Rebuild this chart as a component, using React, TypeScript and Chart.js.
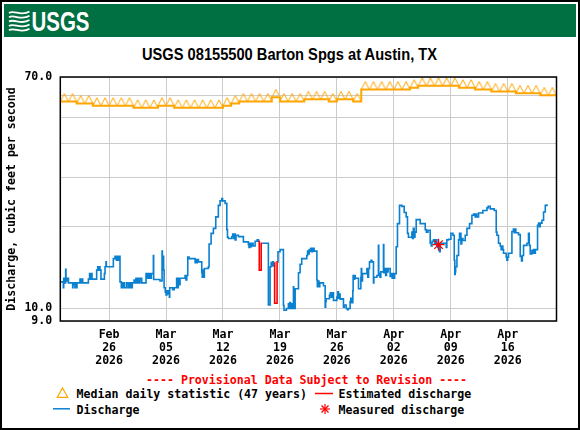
import React, { useEffect, useRef } from 'react';
import { Chart, registerables } from 'chart.js';

Chart.register(...registerables);

const MONO = '"DejaVu Sans Mono", "Liberation Mono", monospace';
const NARROW = '"Liberation Sans Narrow", "Arial Narrow", "Liberation Sans", Arial, sans-serif';

const TITLE = 'USGS 08155500 Barton Spgs at Austin, TX';
const PROVISIONAL = '---- Provisional Data Subject to Revision ----';

// x values: days after 2026-02-20 00:00
const X_START = 0;
const X_END = 61;
const tickDays = [6, 13, 20, 27, 34, 41, 48, 55];
const tickMonths = ['Feb', 'Mar', 'Mar', 'Mar', 'Mar', 'Apr', 'Apr', 'Apr'];
const tickDates = ['26', '05', '12', '19', '26', '02', '09', '16'];
const tickYears = ['2026', '2026', '2026', '2026', '2026', '2026', '2026', '2026'];

const Y_MIN = 9;
const Y_MAX = 70;
const yGridValues = [9, 10, 20, 30, 40, 50, 60, 70];
const yLabelValues = [9, 10, 70];

// median daily statistic, one value per day starting 2026-02-20
const medianDaily = [
  57, 57, 56, 56, 55, 55, 55, 55, 55, 54, 54, 54, 55, 55, 54, 54, 54, 54, 54, 54,
  55, 56, 57, 57, 57, 57, 59, 57, 57, 57, 58, 58, 58, 57, 58, 58, 57, 63, 63, 63,
  63, 63, 63, 64, 65, 65, 65, 65, 65, 64, 64, 63, 63, 62, 62, 62, 61, 61, 61, 60, 60,
];

// [day, cfs]
const dischargeReadings: [number, number | null][] = [
  [0, 12.5], [0.3, 12.5], [0.37, 11.9], [0.42, 12.9], [0.55, 12.4], [0.66, 13.9], [0.7, 12.9], [0.8, 12.6],
  [0.9, 12.9], [1.0, 12.4], [1.52, 11.9], [1.56, 12.4], [1.7, 12.2], [1.8, 11.9], [1.85, 12.4], [2.01, 11.9],
  [2.05, 12.4], [2.42, 12.8], [2.5, 12.4], [2.6, 12.8], [2.75, 12.4], [3.45, 12.8], [3.6, 13.4], [3.7, 12.8],
  [3.8, 13.4], [3.9, 12.8], [4.47, 13.8], [4.6, 14.2], [4.7, 13.8], [4.8, 14.2], [4.88, 13.8], [5.0, 12.8],
  [5.42, 13.4], [5.5, 14.2], [5.62, 14.8], [5.66, 14.2], [6.52, 15.2], [6.73, 15.5], [6.9, 15.0], [7.0, 15.5],
  [7.1, 15.0], [7.2, 15.5], [7.34, 12.5], [7.5, 11.9], [7.6, 12.4], [7.7, 11.9], [7.8, 12.4], [7.9, 11.9],
  [8.16, 12.4], [8.37, 11.9], [8.45, 12.4], [8.6, 11.9], [8.7, 12.4], [8.78, 11.9], [8.85, 12.4], [9.07, 12.7],
  [9.2, 12.4], [9.3, 12.9], [9.4, 12.4], [9.6, 12.9], [9.7, 12.4], [9.8, 12.9], [10.01, 12.4], [10.54, 13.4],
  [10.6, 12.9], [10.7, 13.4], [10.8, 12.9], [10.9, 13.4], [11.0, 12.9], [11.2, 13.4], [11.44, 15.6], [11.48, 12.75],
  [12.26, 12.6], [12.51, 16.2], [12.55, 14.5], [12.6, 15.5], [12.7, 13.8], [12.76, 11.9], [12.9, 11.5], [13.0, 11.2],
  [13.1, 11.6], [13.2, 11.3], [13.3, 11.6], [13.41, 11.0], [13.45, 11.9], [13.8, 11.7], [14.0, 11.9], [14.3, 12.9],
  [14.4, 11.9], [14.5, 12.9], [14.6, 12.2], [14.72, 12.9], [15.34, 13.2], [15.45, 12.7], [15.55, 13.2], [15.67, 15.4],
  [15.83, 15.2], [16.57, 14.7], [16.65, 15.1], [16.75, 14.7], [16.85, 15.1], [16.98, 14.8], [17.39, 13.5], [17.45, 13.0],
  [17.5, 13.8], [17.6, 13.0], [17.71, 14.0], [18.2, 14.2], [18.29, 17.2], [18.54, 18.8], [18.82, 19.6], [19.11, 21.6],
  [19.43, 23.8], [19.64, 24.7], [19.85, 25.2], [19.95, 24.7], [20.26, 24.2], [20.47, 19.4], [20.55, 18.2], [20.67, 18.0],
  [21.08, 18.3], [21.2, 18.7], [21.3, 18.0], [21.4, 18.7], [21.5, 17.8], [21.6, 18.5], [21.9, 18.3], [22.51, 17.5],
  [23.12, 17.1], [23.2, 16.7], [23.3, 17.3], [23.4, 16.8], [23.5, 17.3], [23.7, 16.9], [23.95, 17.6], [24.2, 17.8],
  [24.36, 17.6], [24.44, 17.6], [24.6, null], [24.85, 17.3], [25.58, 10.3], [25.79, 14.2], [25.92, 14.7], [26.0, 14.3],
  [26.1, 14.8], [26.2, 14.3], [26.33, 14.7], [26.5, null], [26.74, 14.8], [26.76, 16.1], [27.02, 16.4], [27.43, 10.25],
  [27.5, 9.85], [27.8, 10.0], [28.04, 10.4], [28.1, 10.0], [28.2, 10.5], [28.3, 10.0], [28.4, 10.4], [28.5, 10.0],
  [28.66, 12.0], [28.7, 10.4], [28.8, 10.0], [28.87, 11.8], [29.28, 13.5], [29.48, 14.5], [29.68, 15.2], [30.3, 15.6],
  [30.4, 16.2], [30.5, 15.8], [30.6, 16.4], [30.71, 16.2], [30.8, 16.6], [30.9, 16.1], [31.0, 16.6], [31.2, 16.2],
  [31.54, 12.7], [31.6, 12.0], [31.7, 12.6], [31.8, 12.0], [31.9, 12.4], [32.35, 12.1], [32.56, 10.1], [32.62, 10.6],
  [32.68, 10.85], [33.09, 11.2], [33.2, 11.4], [33.3, 11.0], [33.4, 11.4], [33.58, 10.7], [34.0, 11.0], [34.1, 11.5],
  [34.2, 10.9], [34.3, 11.3], [34.4, 10.8], [34.61, 10.85], [34.81, 10.1], [34.9, 10.3], [35.14, 10.0], [35.3, 9.9],
  [35.4, 10.0], [35.63, 10.6], [35.7, 10.9], [35.8, 10.5], [35.96, 11.6], [36.0, 13.2], [36.1, 12.8], [36.2, 13.2],
  [36.25, 12.9], [36.66, 11.8], [36.95, 13.0], [37.0, 14.0], [37.05, 12.6], [37.15, 13.4], [37.27, 13.4], [37.69, 14.0],
  [37.8, 13.0], [37.9, 14.0], [38.01, 14.8], [38.2, 15.0], [38.3, 14.8], [38.5, 12.4], [38.55, 13.0], [38.92, 13.2],
  [39.11, 17.0], [39.15, 13.4], [39.3, 13.0], [39.4, 13.6], [39.53, 13.6], [39.73, 17.1], [39.77, 13.5], [39.9, 14.0],
  [40.0, 13.2], [40.1, 14.0], [40.2, 13.6], [40.3, 14.0], [40.55, 13.1], [40.7, 13.4], [40.8, 12.9], [40.9, 13.4],
  [41.0, 12.9], [41.1, 13.4], [41.29, 16.8], [41.45, 20.4], [41.7, 23.8], [41.99, 23.6], [42.28, 22.4], [42.52, 21.6],
  [42.68, 18.8], [42.8, 18.2], [43.22, 19.0], [43.3, 18.0], [43.4, 19.6], [43.5, 18.2], [43.6, 19.0], [43.75, 21.1],
  [44.24, 20.4], [44.86, 19.4], [45.0, 19.0], [45.2, 19.3], [45.47, 17.3], [45.6, 16.9], [45.7, 17.6], [45.88, 17.8],
  [46.0, 17.3], [46.1, 17.8], [46.3, 17.0], [46.4, 16.7], [46.5, 17.2], [46.62, 16.1], [46.7, 17.3], [47.44, 16.7],
  [47.52, 17.8], [47.73, 17.9], [48.02, 18.8], [48.27, 18.5], [48.43, 15.0], [48.5, 13.3], [48.55, 13.6], [48.6, 14.2],
  [48.76, 15.6], [48.96, 17.8], [49.08, 18.8], [49.25, 17.2], [49.35, 18.0], [49.49, 17.7], [49.78, 18.5], [49.99, 19.6],
  [50.31, 20.4], [50.6, 21.9], [50.8, 22.1], [51.0, 21.6], [51.1, 22.1], [51.2, 21.6], [51.42, 22.3], [51.95, 22.8],
  [52.45, 23.3], [52.6, 23.6], [52.85, 23.1], [53.35, 22.8], [53.59, 19.0], [53.68, 18.5], [53.87, 17.3], [54.08, 16.9],
  [54.2, 16.4], [54.3, 16.9], [54.4, 16.4], [54.49, 15.9], [54.82, 15.4], [54.9, 15.0], [55.0, 15.4], [55.1, 15.9],
  [55.52, 19.1], [55.7, 19.5], [55.8, 18.9], [55.9, 19.5], [56.0, 18.9], [56.33, 18.6], [56.54, 15.5], [56.7, 14.9],
  [56.8, 15.6], [56.95, 17.0], [57.37, 17.3], [57.56, 18.8], [57.65, 17.0], [57.77, 15.8], [57.98, 16.3], [58.1, 15.9],
  [58.2, 16.4], [58.3, 15.9], [58.4, 16.4], [58.67, 20.1], [58.8, 20.5], [58.9, 19.9], [59.0, 20.5], [59.21, 21.0],
  [59.41, 22.5], [59.62, 23.8], [59.83, 24.0],
];

const estimatedReadings: [number, number | null][] = [
  [24.44, 17.6], [24.46, 13.8], [24.7, 17.3], [24.85, 17.3], [25.5, null],
  [26.33, 14.7], [26.35, 10.45], [26.65, 14.8], [26.74, 14.8],
];

const measuredReadings: [number, number][] = [[46.5, 17.1]];

const ORANGE = '#ffa500';
const BLUE = '#0a80d0';
const RED = '#ff0000';
const GRID = '#cccccc';

function makeTriangle(): HTMLCanvasElement {
  const c = document.createElement('canvas');
  c.width = 10;
  c.height = 20;
  const g = c.getContext('2d')!;
  g.strokeStyle = ORANGE;
  g.lineWidth = 1;
  g.beginPath();
  g.moveTo(1, 10);
  g.lineTo(5, 2);
  g.lineTo(9, 10);
  g.stroke();
  return c;
}

const framePlugin = {
  id: 'frame',
  afterDraw(chart: any) {
    const { ctx, chartArea: a } = chart;
    ctx.save();
    ctx.strokeStyle = '#000';
    ctx.lineWidth = 1.5;
    ctx.strokeRect(a.left, a.top, a.right - a.left, a.bottom - a.top);
    ctx.restore();
  },
};

export default function App() {
  const ref = useRef<HTMLCanvasElement>(null);

  useEffect(() => {
    const canvas = ref.current;
    if (!canvas) return;
    const tri = makeTriangle();
    const medianLine = medianDaily.map((v, i) => ({ x: i, y: v }));
    medianLine.push({ x: medianDaily.length, y: medianDaily[medianDaily.length - 1] });

    const tickFont = { family: MONO, size: 11.6, weight: 'bold' as const, lineHeight: '13px' };

    const chart = new Chart(canvas, {
      type: 'line',
      data: {
        datasets: [
          {
            label: 'Measured discharge',
            data: measuredReadings.map(([x, y]) => ({ x, y })),
            showLine: false,
            pointStyle: 'star',
            pointRadius: 6,
            borderColor: RED,
            backgroundColor: RED,
            borderWidth: 1.3,
          },
          {
            label: 'Estimated discharge',
            data: estimatedReadings.map(([x, y]) => ({ x, y })),
            borderColor: RED,
            borderWidth: 1.6,
            stepped: true,
            pointRadius: 0,
            spanGaps: false,
          },
          {
            label: 'Discharge',
            data: dischargeReadings.map(([x, y]) => ({ x, y })),
            borderColor: BLUE,
            borderWidth: 1.6,
            stepped: true,
            pointRadius: 0,
            spanGaps: false,
          },
          {
            label: 'Median markers',
            data: medianDaily.map((v, i) => ({ x: i + 0.5, y: v })),
            showLine: false,
            pointStyle: tri as any,
            pointRadius: 5,
            borderColor: ORANGE,
          },
          {
            label: 'Median daily statistic (47 years)',
            data: medianLine,
            borderColor: ORANGE,
            borderWidth: 2,
            stepped: true,
            pointRadius: 0,
          },
        ],
      } as any,
      options: {
        animation: false,
        responsive: false,
        layout: { padding: { left: 0, right: 23.5, top: 77, bottom: 0 } },
        plugins: {
          legend: { display: false },
          title: { display: false },
          tooltip: { enabled: false },
        },
        scales: {
          x: {
            type: 'linear',
            min: X_START,
            max: X_END,
            afterBuildTicks: (s: any) => {
              s.ticks = tickDays.map((v) => ({ value: v }));
            },
            afterFit: (s: any) => {
              s.height = 109;
            },
            grid: { color: GRID, lineWidth: 1, drawTicks: false },
            border: { display: false },
            ticks: {
              autoSkip: false,
              maxRotation: 0,
              padding: 7.5,
              color: '#000',
              font: tickFont,
              callback: (value: any) => {
                const i = tickDays.indexOf(Number(value));
                return i < 0 ? '' : [tickMonths[i], tickDates[i], tickYears[i]];
              },
            },
          },
          y: {
            type: 'logarithmic',
            min: Y_MIN,
            max: Y_MAX,
            afterBuildTicks: (s: any) => {
              s.ticks = yGridValues.map((v) => ({ value: v }));
            },
            afterFit: (s: any) => {
              s.width = 60.3;
            },
            grid: { color: GRID, lineWidth: 1, drawTicks: false },
            border: { display: false },
            ticks: {
              autoSkip: false,
              padding: 8,
              color: '#000',
              font: tickFont,
              callback: (value: any) =>
                yLabelValues.includes(Number(value)) ? Number(value).toFixed(1) : '',
            },
            title: {
              display: true,
              text: 'Discharge, cubic feet per second',
              color: '#000',
              font: { family: MONO, size: 11.6, weight: 'bold' },
              padding: { top: 5.5, bottom: 0 },
            },
          },
        },
      } as any,
      plugins: [framePlugin],
    });
    return () => chart.destroy();
  }, []);

  const legendText = { fontFamily: MONO, fontWeight: 'bold' as const, fontSize: 11.6, fill: '#000' };
  const waves = [0, 1, 2, 3, 4].map((i) => {
    const y = 13 + i * 4.3;
    return `M9 ${y} C14 ${y - 3.5}, 21 ${y + 4}, 29.5 ${y - 1.5}`;
  });

  return (
    <div style={{ position: 'absolute', left: 0, top: 0, width: 580, height: 430, background: '#fff' }}>
      <svg width={580} height={430} style={{ position: 'absolute', left: 0, top: 0 }}>
        <rect x={1} y={1} width={578} height={428} fill="#fff" stroke="#000" strokeWidth={2} />
        <rect x={4} y={4} width={572} height={33} fill="#006f41" />
        <g stroke="#fff" strokeWidth={1.8} fill="none">
          {waves.map((d, i) => (
            <path key={i} d={d} />
          ))}
        </g>
        <text
          x={31.5}
          y={30.5}
          fill="#fff"
          fontFamily={NARROW}
          fontWeight="bold"
          fontSize={28}
          textLength={58}
          lengthAdjust="spacingAndGlyphs"
        >
          USGS
        </text>
        <text
          x={142}
          y={60}
          fill="#000"
          fontFamily={NARROW}
          fontWeight="bold"
          fontSize={16.5}
          textLength={295}
          lengthAdjust="spacingAndGlyphs"
        >
          {TITLE}
        </text>
        <text x={146} y={384} {...legendText} fill={RED}>
          {PROVISIONAL}
        </text>
        <polygon points="57.3,397.3 62.5,388 67.7,397.3" fill="none" stroke={ORANGE} strokeWidth={1.2} />
        <text x={76.6} y={397.5} {...legendText}>Median daily statistic (47 years)</text>
        <line x1={315} y1={393.5} x2={333} y2={393.5} stroke={RED} strokeWidth={1.5} />
        <text x={338.5} y={397.5} {...legendText}>Estimated discharge</text>
        <line x1={53} y1={408.8} x2={70} y2={408.8} stroke={BLUE} strokeWidth={1.5} />
        <text x={76.6} y={413.5} {...legendText}>Discharge</text>
        <g stroke={RED} strokeWidth={1.2}>
          <line x1={320} y1={409} x2={330} y2={409} />
          <line x1={325} y1={404} x2={325} y2={414} />
          <line x1={321.5} y1={405.5} x2={328.5} y2={412.5} />
          <line x1={321.5} y1={412.5} x2={328.5} y2={405.5} />
        </g>
        <text x={338.5} y={413.5} {...legendText}>Measured discharge</text>
      </svg>
      <canvas ref={ref} width={580} height={430} style={{ position: 'absolute', left: 0, top: 0 }} />
    </div>
  );
}
